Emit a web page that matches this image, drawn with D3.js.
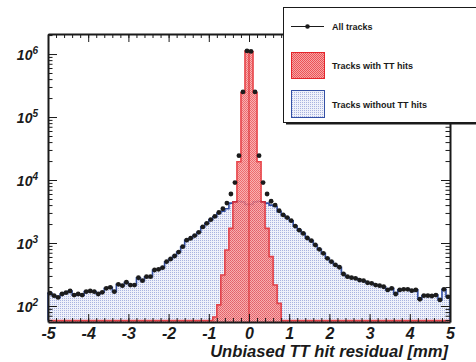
<!DOCTYPE html>
<html>
<head>
<meta charset="utf-8">
<script src="https://cdnjs.cloudflare.com/ajax/libs/d3/7.8.5/d3.min.js"></script>
<style>
  html, body { margin:0; padding:0; background:#fff; }
  svg { display:block; }
  text { font-family: "Liberation Sans", Arial, Helvetica, sans-serif; fill:#1a1a1a; }
</style>
</head>
<body>
<div id="chart"></div>
<script>
'use strict'

// 100 bins of 0.1 mm from -5 to 5
var binLow = -5, binWidth = 0.1;

// all tracks (black points)
var allTracks = [
    160, 146, 137, 155, 163, 173, 149, 155, 149, 169,
    173, 169, 155, 165, 191, 198, 169, 221, 210, 238,
    215, 215, 281, 252, 292, 292, 373, 382, 406, 505,
    557, 622, 719, 874, 1110, 1190, 1310, 1480, 1800, 2050,
    2350, 2650, 3050, 3500, 4300, 6000, 9100, 24300, 250000, 1120000,
    1100000, 250000, 24300, 9100, 6000, 4600, 4000, 3250, 2790, 2530,
    2260, 1860, 1600, 1420, 1200, 1090, 930, 793, 685, 572,
    506, 448, 412, 322, 292, 282, 275, 258, 252, 234,
    229, 215, 210, 202, 180, 191, 155, 180, 184, 184,
    175, 180, 128, 146, 146, 144, 149, 125, 184, 140
];

// tracks with TT hits (red)
var withTT = [
    0, 0, 0, 0, 0, 0, 0, 0, 0, 0,
    0, 0, 0, 0, 0, 0, 0, 0, 0, 0,
    0, 0, 0, 0, 0, 0, 0, 0, 0, 0,
    0, 0, 0, 0, 0, 0, 0, 0, 0, 0,
    0, 67, 104, 311, 775, 1710, 4500, 19500, 245000, 1115000,
    1095000, 245000, 19500, 4500, 1710, 607, 215, 110, 0, 0,
    0, 0, 0, 0, 0, 0, 0, 0, 0, 0,
    0, 0, 0, 0, 0, 0, 0, 0, 0, 0,
    0, 0, 0, 0, 0, 0, 0, 0, 0, 0,
    0, 0, 0, 0, 0, 0, 0, 0, 0, 0
];

// tracks without TT hits (blue)
var withoutTT = [
    160, 146, 137, 155, 163, 173, 149, 155, 149, 169,
    173, 169, 155, 165, 191, 198, 169, 221, 210, 238,
    215, 215, 281, 252, 292, 292, 373, 382, 406, 505,
    557, 622, 719, 874, 1110, 1190, 1310, 1480, 1800, 2050,
    2350, 2600, 2950, 3200, 3500, 4300, 4500, 4600, 4500, 4100,
    4100, 4500, 4600, 4500, 4300, 4000, 3800, 3150, 2790, 2530,
    2260, 1860, 1600, 1420, 1200, 1090, 930, 793, 685, 572,
    506, 448, 412, 322, 292, 282, 275, 258, 252, 234,
    229, 215, 210, 202, 180, 191, 155, 180, 184, 184,
    175, 180, 128, 146, 146, 144, 149, 125, 184, 140
];

var xTicks = [-5, -4, -3, -2, -1, 0, 1, 2, 3, 4, 5];
var yExponents = [2, 3, 4, 5, 6];
var legendLabels = ["All tracks", "Tracks with TT hits", "Tracks without TT hits"];
var xTitle = "Unbiased TT hit residual [mm]";

var chart = (function(){
    var self = {},
    _svg, _x, _y,
    W = 476, H = 362,
    frame = {left: 48, right: 450, top: 34, bottom: 322},
    yMin = 55.7, yMax = 2.08e6,
    blueLine = "#3450a5",
    redLine = "#e4262c",
    labelFont = "'Liberation Sans', Arial, sans-serif",

    addSVGToDOM = function(placeHolder){
        _svg = d3.select(placeHolder)
            .append("svg")
            .attr("width", W)
            .attr("height", H);

        var defs = _svg.append("defs");

        // red checker pattern
        var rp = defs.append("pattern").attr("id", "redPat")
            .attr("width", 2).attr("height", 2).attr("patternUnits", "userSpaceOnUse");
        rp.append("rect").attr("width", 2).attr("height", 2).attr("fill", "#f7a4a4");
        rp.append("rect").attr("width", 1).attr("height", 1).attr("fill", "#ec5256");
        rp.append("rect").attr("x", 1).attr("y", 1).attr("width", 1).attr("height", 1).attr("fill", "#ec5256");

        // light blue dotted pattern
        var bp = defs.append("pattern").attr("id", "bluePat")
            .attr("width", 2).attr("height", 2).attr("patternUnits", "userSpaceOnUse");
        bp.append("rect").attr("width", 2).attr("height", 2).attr("fill", "#eff1fa");
        bp.append("rect").attr("width", 1).attr("height", 1).attr("fill", "#a9b3e0");
    },

    createScales = function(){
        _x = d3.scaleLinear().domain([-5, 5]).range([frame.left, frame.right]);
        _y = d3.scaleLog().domain([yMin, yMax]).range([frame.bottom, frame.top]);
    },

    yOf = function(v){
        return v > yMin ? _y(v) : frame.bottom - 1.5;
    },

    //turns bin contents into step points
    stepPoints = function(values){
        var pts = [[binLow, 0]];
        values.forEach(function(v, i){
            var lo = binLow + i * binWidth;
            pts.push([lo, v]);
            pts.push([lo + binWidth, v]);
        });
        pts.push([binLow + values.length * binWidth, 0]);
        return pts;
    },

    drawHist = function(values, fill, stroke, sw, opacity){
        var pts = stepPoints(values);
        var area = d3.area()
            .x(function(d){ return _x(d[0]); })
            .y0(frame.bottom)
            .y1(function(d){ return yOf(d[1]); });
        var line = d3.line()
            .x(function(d){ return _x(d[0]); })
            .y(function(d){ return yOf(d[1]); });
        var g = _svg.append("g").attr("opacity", opacity || 1);
        g.append("path").attr("d", area(pts)).attr("fill", fill);
        g.append("path").attr("d", line(pts))
            .attr("fill", "none")
            .attr("stroke", stroke)
            .attr("stroke-width", sw);
        return g;
    },

    drawAxes = function(){
        var minorX = d3.range(-5, 5.001, 0.2).map(function(v){ return Math.round(v * 10) / 10; });
        var majorY = yExponents.map(function(e){ return Math.pow(10, e); });
        var minorY = [];
        for (var e = 1; e <= 6; e++){
            for (var k = 2; k <= 9; k++){
                var v = k * Math.pow(10, e);
                if (v > yMin && v < yMax) minorY.push(v);
            }
        }

        var axes = [
            {axis: d3.axisBottom, pos: "translate(0," + frame.bottom + ")", scale: _x, major: xTicks, minor: minorX, len: 8},
            {axis: d3.axisTop, pos: "translate(0," + frame.top + ")", scale: _x, major: xTicks, minor: minorX, len: 8},
            {axis: d3.axisLeft, pos: "translate(" + frame.left + ",0)", scale: _y, major: majorY, minor: minorY, len: 9},
            {axis: d3.axisRight, pos: "translate(" + frame.right + ",0)", scale: _y, major: majorY, minor: minorY, len: 9}
        ];

        axes.forEach(function(a){
            _svg.append("g").attr("transform", a.pos)
                .call(a.axis(a.scale).tickValues(a.minor).tickSize(-a.len / 2).tickSizeOuter(0).tickFormat(""))
                .call(function(g){ g.select(".domain").remove(); g.selectAll("line").attr("stroke", "#1a1a1a").attr("stroke-width", 1); });
            _svg.append("g").attr("transform", a.pos)
                .call(a.axis(a.scale).tickValues(a.major).tickSize(-a.len).tickSizeOuter(0).tickFormat(""))
                .call(function(g){
                    g.select(".domain").attr("stroke", "#1a1a1a").attr("stroke-width", 2);
                    g.selectAll("line").attr("stroke", "#1a1a1a").attr("stroke-width", 1);
                });
        });

        // x labels, plain hyphen minus like the original
        _svg.append("g").attr("transform", "translate(0," + frame.bottom + ")")
            .call(d3.axisBottom(_x).tickValues(xTicks).tickSize(0).tickPadding(6)
                .tickFormat(function(d){ return String(d); }))
            .call(function(g){
                g.select(".domain").remove();
                g.selectAll("text")
                    .attr("font-size", 16).attr("font-weight", "bold").attr("font-style", "italic")
                    .attr("fill", "#1a1a1a")
                    .style("font-family", labelFont);
            });

        // y labels as 10^n
        _svg.append("g").attr("transform", "translate(" + frame.left + ",0)")
            .call(d3.axisLeft(_y).tickValues(majorY).tickSize(0).tickPadding(10).tickFormat(""))
            .call(function(g){
                g.select(".domain").remove();
                g.selectAll("text").each(function(d){
                    var t = d3.select(this)
                        .attr("dy", "0.4em")
                        .attr("font-size", 14).attr("font-weight", "bold").attr("font-style", "italic")
                        .attr("fill", "#1a1a1a")
                        .style("font-family", labelFont);
                    t.append("tspan").text("10");
                    t.append("tspan").attr("dy", -6).attr("font-size", 10)
                        .text(Math.round(Math.log10(d)));
                });
            });

        _svg.append("text")
            .attr("x", 448).attr("y", 357)
            .attr("text-anchor", "end")
            .attr("font-size", 16.6).attr("font-weight", "bold").attr("font-style", "italic")
            .text(xTitle);
    },

    drawLegend = function(){
        var g = _svg.append("g");
        g.append("line").attr("x1", 286).attr("x2", 478).attr("y1", 123.5).attr("y2", 123.5)
            .attr("stroke", "#1a1a1a").attr("stroke-width", 2);
        g.append("rect").attr("x", 283.5).attr("y", 7.5).attr("width", 200).attr("height", 115)
            .attr("fill", "#fff").attr("stroke", "#1a1a1a").attr("stroke-width", 1);

        g.append("line").attr("x1", 291).attr("x2", 324).attr("y1", 26.5).attr("y2", 26.5)
            .attr("stroke", "#1a1a1a").attr("stroke-width", 1);
        g.append("circle").attr("cx", 307.5).attr("cy", 26.5).attr("r", 2.3).attr("fill", "#1a1a1a");

        g.append("rect").attr("x", 291.5).attr("y", 52.5).attr("width", 33).attr("height", 26)
            .attr("fill", "url(#redPat)").attr("stroke", redLine).attr("stroke-width", 1);
        g.append("rect").attr("x", 291.5).attr("y", 90.5).attr("width", 33).attr("height", 27)
            .attr("fill", "url(#bluePat)").attr("stroke", blueLine).attr("stroke-width", 1);

        var ys = [30, 69, 107.5];
        legendLabels.forEach(function(l, i){
            g.append("text").attr("x", 332).attr("y", ys[i])
                .attr("font-size", 9).attr("font-weight", "bold")
                .text(l);
        });
    };

    self.init = function(placeHolder){
        addSVGToDOM(placeHolder);
        createScales();

        drawHist(withoutTT, "url(#bluePat)", blueLine, 1.6);
        drawHist(withTT, "url(#redPat)", redLine, 1.6, 0.85);

        // line at the central bin edge
        var c = withTT.length / 2;
        _svg.append("line")
            .attr("x1", _x(binLow + c * binWidth)).attr("x2", _x(binLow + c * binWidth))
            .attr("y1", frame.bottom).attr("y2", yOf(Math.min(withTT[c - 1], withTT[c])))
            .attr("stroke", "#d8262c").attr("stroke-width", 1);

        // all tracks points
        _svg.append("g").selectAll("circle")
            .data(allTracks)
            .enter()
            .append("circle")
            .attr("cx", function(d, i){ return _x(binLow + (i + 0.5) * binWidth); })
            .attr("cy", function(d){ return _y(d); })
            .attr("r", 2.4)
            .attr("fill", "#1c1c1c");

        drawAxes();
        drawLegend();
    };

    return self;
}());

chart.init("#chart");
</script>
</body>
</html>
